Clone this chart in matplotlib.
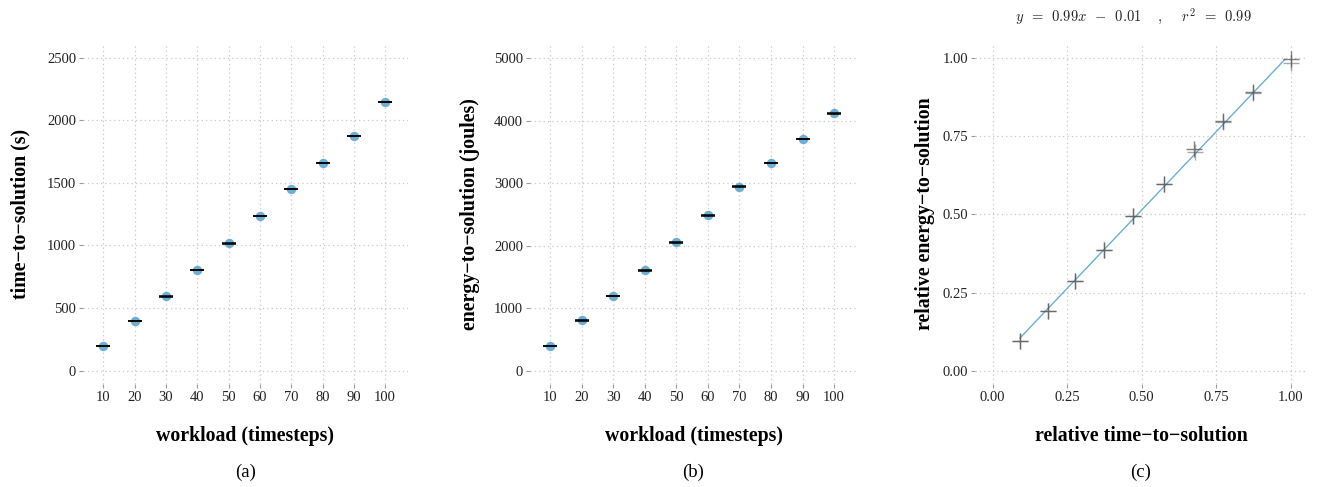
import matplotlib
matplotlib.use("Agg")
import matplotlib.pyplot as plt
import numpy as np

# ---- data ----
workload = [10, 20, 30, 40, 50, 60, 70, 80, 90, 100]
time_s = [195, 395, 592, 803, 1016, 1235, 1451, 1659, 1872, 2147]
time_err = [1, 1, 1, 1, 1, 1, 1, 1, 1, 1]
energy_j = [400, 805, 1195, 1605, 2053, 2485, 2944, 3323, 3712, 4117]
energy_err = [2, 2, 2, 2, 2, 2, 8, 3, 3, 11]

rel_time = [0.0916, 0.1844, 0.2771, 0.3721, 0.4693, 0.5732, 0.6749, 0.7709, 0.8715, 1.000]
rel_energy = [0.0958, 0.1917, 0.2865, 0.3855, 0.4941, 0.5964, 0.7080, 0.7990, 0.8920, 0.9950]
rel_time_b = [0.0916, 0.1844, 0.2771, 0.3721, 0.4720, 0.5732, 0.6770, 0.7740, 0.8740, 0.9990]
rel_energy_b = [0.0958, 0.1917, 0.2865, 0.3855, 0.4941, 0.5964, 0.7000, 0.7940, 0.8870, 0.9820]

fit_text = r"$y\ \,=\ \,0.99x\ \,-\ \,0.01\quad\ ,\quad\ r^2\ \,=\ \,0.99$"

# ---- style ----
plt.rcParams['font.family'] = ['Liberation Serif', 'DejaVu Serif']
plt.rcParams['mathtext.fontset'] = 'cm'

BLUE = '#6BAED6'
GRID = '#C8C8C8'
TICKC = '#9A9A9A'
TXT = '#222222'

W, H = 1317, 487
fig = plt.figure(figsize=(W / 100, H / 100), dpi=100)

def px_axes(l, r, t, b):
    return fig.add_axes([l / W, 1 - b / H, (r - l) / W, (b - t) / H])

def style(ax):
    for s in ax.spines.values():
        s.set_visible(False)
    ax.grid(True, linestyle=(0, (1, 2.5)), color=GRID, linewidth=0.9)
    ax.set_axisbelow(True)
    ax.tick_params(axis='both', length=3, width=0.8, color=TICKC,
                   labelsize=10.5, labelcolor=TXT, pad=2)

# (a)
axa = px_axes(83, 408, 43, 384)
style(axa)
axa.plot(workload, time_s, 'o', color=BLUE, markersize=6.8, markeredgewidth=0, zorder=2)
axa.errorbar(workload, time_s, yerr=time_err, fmt='none', ecolor='black',
             elinewidth=0.8, capsize=5.2, capthick=1.1, zorder=3)
axa.set_xlim(3.5, 107.3)
axa.set_ylim(-107, 2617)
axa.set_xticks(workload)
axa.set_yticks([0, 500, 1000, 1500, 2000, 2500])

# (b)
axb = px_axes(530, 857, 43, 384)
style(axb)
axb.plot(workload, energy_j, 'o', color=BLUE, markersize=6.8, markeredgewidth=0, zorder=2)
axb.errorbar(workload, energy_j, yerr=energy_err, fmt='none', ecolor='black',
             elinewidth=0.8, capsize=5.2, capthick=1.1, zorder=3)
axb.set_xlim(3.5, 107.3)
axb.set_ylim(-213, 5243)
axb.set_xticks(workload)
axb.set_yticks([0, 1000, 2000, 3000, 4000, 5000])

# (c)
axc = px_axes(975, 1307, 43, 384)
style(axc)
xs = np.array(rel_time + rel_time_b)
ys = np.array(rel_energy + rel_energy_b)
k, c0 = np.polyfit(xs, ys, 1)
xl = np.array([min(rel_time), 0.98])
axc.plot(xl, k * xl + c0, color=BLUE, linewidth=1.0, zorder=2)
axc.plot(rel_time, rel_energy, '+', color='#555555', alpha=0.75, markersize=11,
         markeredgewidth=1.0, zorder=3)
axc.plot(rel_time_b, rel_energy_b, '+', color='#555555', alpha=0.5, markersize=11,
         markeredgewidth=1.0, zorder=3)
axc.set_xlim(-0.059, 1.054)
axc.set_ylim(-0.042, 1.047)
axc.set_xticks([0, 0.25, 0.5, 0.75, 1.0])
axc.set_yticks([0, 0.25, 0.5, 0.75, 1.0])
axc.set_xticklabels(['0.00', '0.25', '0.50', '0.75', '1.00'])
axc.set_yticklabels(['0.00', '0.25', '0.50', '0.75', '1.00'])
fig.text(1133 / W, 1 - 17 / H, fit_text, ha='center', va='center', fontsize=10.5, color=TXT)

# labels
lab_kw = dict(fontsize=14.3, fontweight='bold', color='black')
for cx, txt in [(245.5, 'workload (timesteps)'), (693.5, 'workload (timesteps)'),
                (1141, 'relative time\u2212to\u2212solution')]:
    fig.text(cx / W, 1 - 436 / H, txt, ha='center', va='center', **lab_kw)
for cx, txt in [(245.5, '(a)'), (693.5, '(b)'), (1141, '(c)')]:
    fig.text(cx / W, 1 - 472 / H, txt, ha='center', va='center', fontsize=13.5, color='black')
for cx, txt in [(20, 'time\u2212to\u2212solution (s)'), (470, 'energy\u2212to\u2212solution (joules)'),
                (925, 'relative energy\u2212to\u2212solution')]:
    fig.text(cx / W, 1 - 214 / H, txt, ha='center', va='center', rotation=90, **lab_kw)

fig.savefig('out.png', dpi=100, facecolor='white')
